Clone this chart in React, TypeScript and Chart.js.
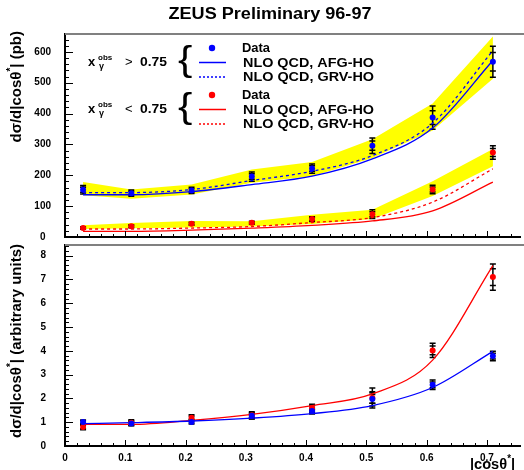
import React, { useEffect, useRef } from 'react';
import { Chart, registerables } from 'chart.js';

Chart.register(...registerables);

const FONT = '"Liberation Sans", Arial, Helvetica, sans-serif';
const BLUE = '#0000ff';
const RED = '#ff0000';
const YELLOW = '#ffff00';

// ---- data ----
const cosBins = [0.03, 0.11, 0.21, 0.31, 0.41, 0.51, 0.61, 0.71];

// top panel (pb)
const topBlueData = [153, 142, 151, 196, 222, 296, 387, 568];
const topBlueErr = [14, 10, 10, 15, 15, 25, 38, 50];
const topBlueStat = [8, 6, 6, 9, 9, 15, 22, 30];
const topRedData = [29, 35, 43, 46, 58, 74, 154, 274];
const topRedErr = [4, 5, 5, 5, 8, 14, 14, 22];
const topRedStat = [2, 3, 3, 3, 5, 8, 8, 13];

const topBlueBandHi = [178, 154, 170, 219, 243, 317, 433, 650];
const topBlueBandLo = [135, 124, 138, 176, 197, 256, 345, 513];
const topRedBandHi = [38, 45, 52, 51, 72, 88, 181, 285];
const topRedBandLo = [26, 28, 31, 34, 42, 58, 133, 229];

const topBlueAFG = [137, 137, 147, 170, 197, 253, 353, 572];
const topBlueGRV = [144, 144, 154, 183, 213, 264, 369, 604];
const topRedAFG = [18, 18, 22, 29, 38, 52, 85, 178];
const topRedGRV = [26, 26, 29, 34, 47, 63, 113, 221];

// bottom panel (arbitrary units)
const botBlueData = [1.01, 0.95, 1.01, 1.27, 1.47, 1.98, 2.57, 3.78];
const botBlueErr = [0.08, 0.1, 0.08, 0.12, 0.12, 0.3, 0.2, 0.2];
const botBlueStat = [0.05, 0.06, 0.05, 0.07, 0.07, 0.18, 0.12, 0.12];
const botRedData = [0.8, 0.98, 1.19, 1.29, 1.6, 2.02, 4.02, 7.1];
const botRedErr = [0.12, 0.12, 0.12, 0.15, 0.15, 0.42, 0.3, 0.55];
const botRedStat = [0.07, 0.07, 0.07, 0.09, 0.09, 0.22, 0.18, 0.35];
const botBlueTheory = [0.94, 0.98, 1.05, 1.17, 1.36, 1.7, 2.46, 3.98];
const botRedTheory = [0.91, 0.91, 1.08, 1.33, 1.7, 2.19, 3.61, 7.58];

const xMin = 0;
const xMax = 0.755;
const topYMax = 658;
const botYMax = 8.45;

const pts = (ys: number[]) => cosBins.map((x, i) => ({ x, y: ys[i] }));

// ---- text helpers ----
type Seg = { t: string; size: number; bold?: boolean; dy?: number };
const segFont = (s: Seg) => `${s.bold === false ? '' : 'bold '}${s.size}px ${FONT}`;

function drawRich(
  ctx: CanvasRenderingContext2D,
  segs: Seg[],
  x: number,
  y: number,
  align: 'left' | 'center' | 'right',
  targetW?: number,
  rotate?: boolean
) {
  ctx.save();
  let w = 0;
  for (const s of segs) {
    ctx.font = segFont(s);
    w += ctx.measureText(s.t).width;
  }
  const sx = targetW ? targetW / w : 1;
  ctx.translate(x, y);
  if (rotate) ctx.rotate(-Math.PI / 2);
  ctx.scale(sx, 1);
  let cx = align === 'left' ? 0 : align === 'center' ? -w / 2 : -w;
  ctx.textBaseline = 'middle';
  ctx.textAlign = 'left';
  ctx.fillStyle = '#000';
  for (const s of segs) {
    ctx.font = segFont(s);
    ctx.fillText(s.t, cx, s.dy || 0);
    cx += ctx.measureText(s.t).width;
  }
  ctx.restore();
}

function drawBrace(ctx: CanvasRenderingContext2D, x0: number, y0: number, x1: number, y1: number) {
  ctx.save();
  ctx.font = `40px ${FONT}`;
  const m = ctx.measureText('{');
  const w = m.actualBoundingBoxLeft + m.actualBoundingBoxRight;
  const h = m.actualBoundingBoxAscent + m.actualBoundingBoxDescent;
  ctx.translate(x0, y0);
  ctx.scale((x1 - x0) / w, (y1 - y0) / h);
  ctx.textBaseline = 'alphabetic';
  ctx.textAlign = 'left';
  ctx.fillStyle = '#000';
  ctx.fillText('{', m.actualBoundingBoxLeft, m.actualBoundingBoxAscent);
  ctx.restore();
}

// ---- plugins ----
const errorBarPlugin = {
  id: 'errbars',
  beforeDatasetsDraw(chart: any) {
    const ctx = chart.ctx;
    const xs = chart.scales.x;
    const ys = chart.scales.y;
    ctx.save();
    ctx.strokeStyle = '#000';
    ctx.lineWidth = 1.5;
    chart.data.datasets.forEach((ds: any) => {
      if (!ds.errTotal) return;
      ds.data.forEach((p: any, i: number) => {
        const px = xs.getPixelForValue(p.x);
        const e = ds.errTotal[i];
        const s = ds.errStat[i];
        const yT = ys.getPixelForValue(p.y + e);
        const yB = ys.getPixelForValue(p.y - e);
        ctx.beginPath();
        ctx.moveTo(px, yT);
        ctx.lineTo(px, yB);
        for (const yy of [yT, yB, ys.getPixelForValue(p.y + s), ys.getPixelForValue(p.y - s)]) {
          ctx.moveTo(px - 3, yy);
          ctx.lineTo(px + 3, yy);
        }
        ctx.stroke();
      });
    });
    ctx.restore();
  },
};

function makeTickPlugin(yMinor: number, yMajor: number, xMinor: number, xMajor: number) {
  return {
    id: 'rootticks',
    afterDraw(chart: any) {
      const ctx = chart.ctx;
      const a = chart.chartArea;
      const x = chart.scales.x;
      const y = chart.scales.y;
      ctx.save();
      ctx.strokeStyle = '#000';
      ctx.lineWidth = 1;
      for (let k = 0; ; k++) {
        const v = k * yMinor;
        if (v > y.max + 1e-9) break;
        const r = v / yMajor;
        const major = Math.abs(r - Math.round(r)) < 1e-6;
        const py = Math.round(y.getPixelForValue(v)) + 0.5;
        ctx.beginPath();
        ctx.moveTo(a.left, py);
        ctx.lineTo(a.left + (major ? 8 : 4), py);
        ctx.stroke();
      }
      for (let k = 0; ; k++) {
        const v = k * xMinor;
        if (v > x.max + 1e-9) break;
        const r = v / xMajor;
        const major = Math.abs(r - Math.round(r)) < 1e-6;
        const px = Math.round(x.getPixelForValue(v)) + 0.5;
        ctx.beginPath();
        ctx.moveTo(px, a.bottom);
        ctx.lineTo(px, a.bottom - (major ? 6 : 3));
        ctx.stroke();
      }
      ctx.strokeStyle = '#808080';
      ctx.lineWidth = 2;
      ctx.beginPath();
      ctx.moveTo(a.left, a.top);
      ctx.lineTo(chart.width, a.top);
      ctx.stroke();
      ctx.restore();
    },
  };
}

const topTextPlugin = {
  id: 'toptext',
  afterDraw(chart: any) {
    const ctx: CanvasRenderingContext2D = chart.ctx;
    // title
    drawRich(ctx, [{ t: 'ZEUS Preliminary 96-97', size: 16 }], 270, 15, 'center', 203);
    // y title
    drawRich(
      ctx,
      [
        { t: 'dσ/d|cosθ', size: 15 },
        { t: '*', size: 10, dy: -6 },
        { t: '| (pb)', size: 15 },
      ],
      17,
      31,
      'right',
      undefined,
      true
    );
    // legend groups
    const groups = [
      { sym: '>', color: BLUE, y0: 48 },
      { sym: '<', color: RED, y0: 95 },
    ];
    for (const g of groups) {
      const yl = g.y0 + 14.5;
      ctx.save();
      ctx.fillStyle = '#000';
      ctx.textBaseline = 'middle';
      ctx.textAlign = 'left';
      ctx.font = `bold 13px ${FONT}`;
      ctx.fillText('x', 88, yl);
      ctx.font = `bold 8px ${FONT}`;
      ctx.fillText('obs', 98, yl - 5);
      ctx.font = `bold 9px ${FONT}`;
      ctx.fillText('γ', 99, yl + 4);
      ctx.font = `13px ${FONT}`;
      ctx.fillText(g.sym, 125, yl);
      ctx.restore();
      drawRich(ctx, [{ t: '0.75', size: 13 }], 140, yl, 'left', 27);
      drawBrace(ctx, 178, g.y0 - 3, 192, g.y0 + 30);
      // marker dot
      ctx.save();
      ctx.fillStyle = g.color;
      ctx.beginPath();
      ctx.arc(212, g.y0, 3.2, 0, Math.PI * 2);
      ctx.fill();
      // solid line
      ctx.strokeStyle = g.color;
      ctx.lineWidth = 1.5;
      ctx.beginPath();
      ctx.moveTo(199, g.y0 + 14.5);
      ctx.lineTo(226, g.y0 + 14.5);
      ctx.stroke();
      // dotted line
      ctx.setLineDash([2, 2]);
      ctx.beginPath();
      ctx.moveTo(199, g.y0 + 29);
      ctx.lineTo(226, g.y0 + 29);
      ctx.stroke();
      ctx.restore();
      drawRich(ctx, [{ t: 'Data', size: 13 }], 242, g.y0, 'left', 28);
      drawRich(ctx, [{ t: 'NLO QCD, AFG-HO', size: 13 }], 243, g.y0 + 15, 'left', 131);
      drawRich(ctx, [{ t: 'NLO QCD, GRV-HO', size: 13 }], 243, g.y0 + 29, 'left', 131);
    }
  },
};

const botTextPlugin = {
  id: 'bottext',
  afterDraw(chart: any) {
    const ctx: CanvasRenderingContext2D = chart.ctx;
    drawRich(
      ctx,
      [
        { t: 'dσ/d|cosθ', size: 15 },
        { t: '*', size: 10, dy: -6 },
        { t: '| (arbitrary units)', size: 15 },
      ],
      17,
      3,
      'right',
      undefined,
      true
    );
    drawRich(
      ctx,
      [
        { t: '|cosθ', size: 15 },
        { t: '*', size: 10, dy: -6 },
        { t: '|', size: 15 },
      ],
      515,
      224,
      'right',
      45
    );
  },
};

// ---- dataset builders ----
const dataSet = (ys: number[], err: number[], stat: number[], color: string) => ({
  data: pts(ys),
  showLine: false,
  pointRadius: 3,
  pointBackgroundColor: color,
  pointBorderWidth: 0,
  errTotal: err,
  errStat: stat,
});
const curve = (ys: number[], color: string, dashed: boolean) => ({
  data: pts(ys),
  showLine: true,
  pointRadius: 0,
  borderColor: color,
  borderWidth: 1.3,
  borderDash: dashed ? [3, 3] : [],
  tension: 0.4,
  cubicInterpolationMode: 'monotone',
  fill: false,
});
const bandHi = (ys: number[]) => ({
  data: pts(ys),
  showLine: true,
  pointRadius: 0,
  borderWidth: 0,
  borderColor: 'rgba(0,0,0,0)',
  backgroundColor: YELLOW,
  fill: '+1',
  tension: 0,
});
const bandLo = (ys: number[]) => ({
  data: pts(ys),
  showLine: true,
  pointRadius: 0,
  borderWidth: 0,
  borderColor: 'rgba(0,0,0,0)',
  fill: false,
  tension: 0,
});

const tickFont = { family: FONT, size: 10, weight: 'bold' as const };

function baseScales(yMax: number, yStep: number, yPad: number, xLabels: boolean, xHeight: number) {
  return {
    x: {
      type: 'linear',
      min: xMin,
      max: xMax,
      ticks: {
        display: xLabels,
        stepSize: 0.1,
        includeBounds: false,
        autoSkip: false,
        maxRotation: 0,
        font: tickFont,
        color: '#000',
        padding: 6,
      },
      grid: { display: true, drawOnChartArea: false, drawTicks: false },
      border: { display: true, color: '#000', width: 2 },
      afterFit: (s: any) => {
        s.height = xHeight;
        s.paddingLeft = 0;
        s.paddingRight = 0;
      },
    },
    y: {
      type: 'linear',
      min: 0,
      max: yMax,
      ticks: {
        stepSize: yStep,
        includeBounds: false,
        autoSkip: false,
        font: tickFont,
        color: '#000',
        padding: yPad,
        crossAlign: 'center',
      },
      grid: { display: true, drawOnChartArea: false, drawTicks: false },
      border: { display: true, color: '#000', width: 2 },
      afterFit: (s: any) => {
        s.width = 65;
        s.paddingTop = 0;
        s.paddingBottom = 0;
      },
    },
  };
}

const commonPlugins = {
  legend: { display: false },
  tooltip: { enabled: false },
  title: { display: false },
  filler: { drawTime: 'beforeDatasetsDraw' },
};

export default function App() {
  const topRef = useRef<HTMLCanvasElement>(null);
  const botRef = useRef<HTMLCanvasElement>(null);

  useEffect(() => {
    const c1 = new Chart(topRef.current as HTMLCanvasElement, {
      type: 'scatter',
      data: {
        datasets: [
          dataSet(topBlueData, topBlueErr, topBlueStat, BLUE),
          dataSet(topRedData, topRedErr, topRedStat, RED),
          curve(topBlueAFG, BLUE, false),
          curve(topBlueGRV, BLUE, true),
          curve(topRedAFG, RED, false),
          curve(topRedGRV, RED, true),
          bandHi(topBlueBandHi),
          bandLo(topBlueBandLo),
          bandHi(topRedBandHi),
          bandLo(topRedBandLo),
        ] as any,
      },
      options: {
        animation: false,
        responsive: false,
        maintainAspectRatio: false,
        layout: { padding: { top: 34, right: 1, left: 0, bottom: 0 } },
        plugins: commonPlugins as any,
        scales: baseScales(topYMax, 100, 14, false, 3) as any,
      },
      plugins: [errorBarPlugin, makeTickPlugin(20, 100, 0.02, 0.1), topTextPlugin],
    });

    const c2 = new Chart(botRef.current as HTMLCanvasElement, {
      type: 'scatter',
      data: {
        datasets: [
          dataSet(botBlueData, botBlueErr, botBlueStat, BLUE),
          dataSet(botRedData, botRedErr, botRedStat, RED),
          curve(botBlueTheory, BLUE, false),
          curve(botRedTheory, RED, false),
        ] as any,
      },
      options: {
        animation: false,
        responsive: false,
        maintainAspectRatio: false,
        layout: { padding: { top: 1, right: 1, left: 0, bottom: 0 } },
        plugins: commonPlugins as any,
        scales: baseScales(botYMax, 1, 19, true, 24) as any,
      },
      plugins: [errorBarPlugin, makeTickPlugin(0.2, 1, 0.02, 0.1), botTextPlugin],
    });

    return () => {
      c1.destroy();
      c2.destroy();
    };
  }, []);

  return (
    <div
      style={{
        position: 'fixed',
        left: 0,
        top: 0,
        width: 524,
        height: 470,
        background: '#fff',
        overflow: 'hidden',
      }}
    >
      <canvas
        ref={topRef}
        width={524}
        height={241}
        style={{ position: 'absolute', left: 0, top: 0, width: 524, height: 241 }}
      />
      <canvas
        ref={botRef}
        width={524}
        height={229}
        style={{ position: 'absolute', left: 0, top: 241, width: 524, height: 229 }}
      />
    </div>
  );
}
